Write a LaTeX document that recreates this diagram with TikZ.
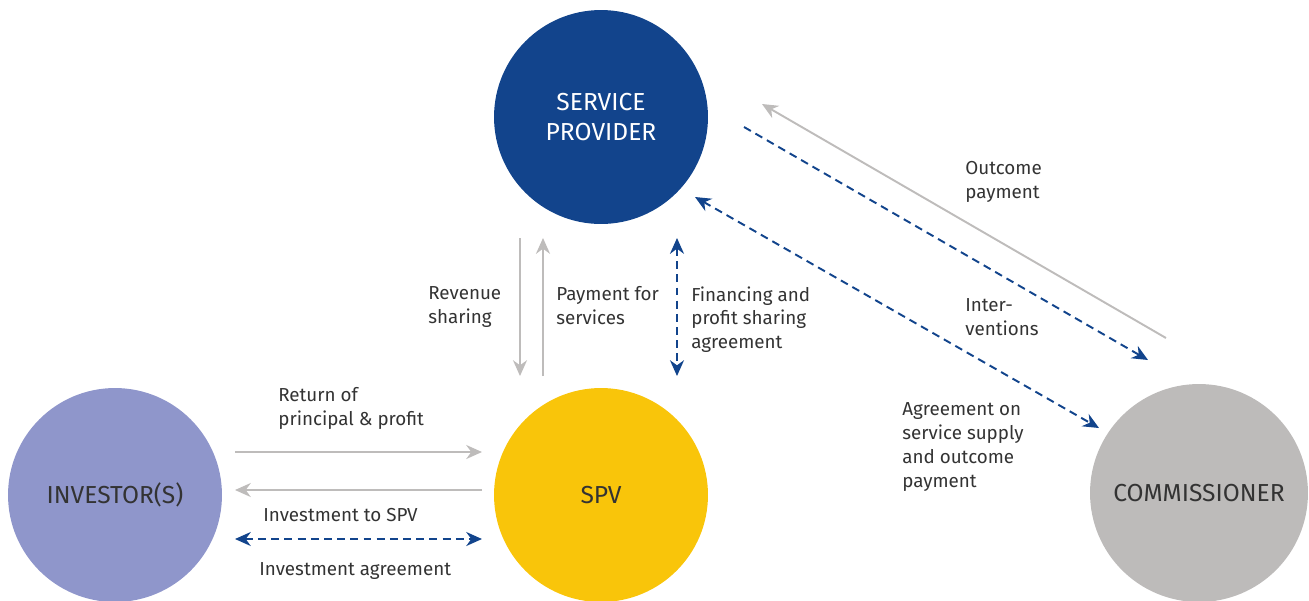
\documentclass[tikz,border=0pt]{standalone}
\usepackage{fontspec}
\setmainfont{Fira Sans}
\usetikzlibrary{arrows.meta, positioning, calc}
\definecolor{spblue}{HTML}{12448C}
\definecolor{spvyellow}{HTML}{F9C50A}
\definecolor{invviolet}{HTML}{8F96CB}
\definecolor{comgray}{HTML}{BDBBBA}
\definecolor{flowgray}{HTML}{BEBCBB}
\definecolor{txt}{HTML}{333333}
\tikzstyle{party} = [circle, minimum size=4.28cm, inner sep=0pt, text=txt, font=\fontsize{14}{17.5}\selectfont, align=center]
\tikzstyle{label} = [anchor=north west, inner sep=0pt, align=left, text=txt, font=\fontsize{10.7}{13.6}\selectfont]
\tikzstyle{money} = [line width=1.1pt, draw=flowgray, -{Stealth[length=9pt,width=8pt]}]
\tikzstyle{deal} = [line width=1.1pt, draw=spblue, dash pattern=on 4.5pt off 3pt, -{Stealth[length=9pt,width=8pt]}]
\tikzstyle{dealboth} = [deal, {Stealth[length=9pt,width=8pt]}-{Stealth[length=9pt,width=8pt]}]

\begin{document}
\begin{tikzpicture}[x=0.02cm, y=-0.02cm]
                \useasboundingbox (0,0) rectangle (1309,600);

                \node (provider) [party, fill=spblue, text=white] at (601,117) {SERVICE\\PROVIDER};
                \node (spv) [party, fill=spvyellow] at (601,495) {SPV};
                \node (investor) [party, fill=invviolet] at (115,495) {INVESTOR(S)};
                \node (commissioner) [party, fill=comgray, minimum size=4.36cm] at (1199,493) {COMMISSIONER};

                % ends of the flows
                \coordinate (revtop) at (520,238);
                \coordinate (revbot) at (520,376);
                \coordinate (paytop) at (543,238);
                \coordinate (paybot) at (543,376);
                \coordinate (fintop) at (677,238);
                \coordinate (finbot) at (677,376);
                \coordinate (retleft) at (235,452);
                \coordinate (retright) at (482,452);
                \coordinate (invleft) at (235,490);
                \coordinate (invright) at (482,490);
                \coordinate (agrleft) at (235,539);
                \coordinate (agrright) at (482,539);
                \coordinate (outstart) at (1166,338);
                \coordinate (outend) at (762,104);
                \coordinate (intstart) at (744,127);
                \coordinate (intend) at (1148,360);
                \coordinate (supstart) at (695,197);
                \coordinate (supend) at (1099,428);

                \draw [money] (revtop) -- (revbot);
                \draw [money] (paybot) -- (paytop);
                \draw [dealboth] (fintop) -- (finbot);
                \draw [money] (retleft) -- (retright);
                \draw [money] (invright) -- (invleft);
                \draw [dealboth] (agrleft) -- (agrright);
                \draw [money] (outstart) -- (outend);
                \draw [deal] (intstart) -- (intend);
                \draw [dealboth] (supstart) -- (supend);

                \node (revenue) [label] at (428,286) {Revenue\\sharing};
                \node (payment) [label] at (556,286) {Payment for\\services};
                \node (financing) [label] at (691,286) {Financing and\\profit sharing\\agreement};
                \node (return) [label] at (278,387) {Return of\\principal \& profit};
                \node (investment) [label] at (263,508) {Investment to SPV};
                \node (invagreement) [label] at (259,562) {Investment agreement};
                \node (outcome) [label] at (965,161) {Outcome\\payment};
                \node (interventions) [label] at (965,298) {Inter-\\ventions};
                \node (supply) [label] at (902,402) {Agreement on\\service supply\\and outcome\\payment};

            \end{tikzpicture}
\end{document}
